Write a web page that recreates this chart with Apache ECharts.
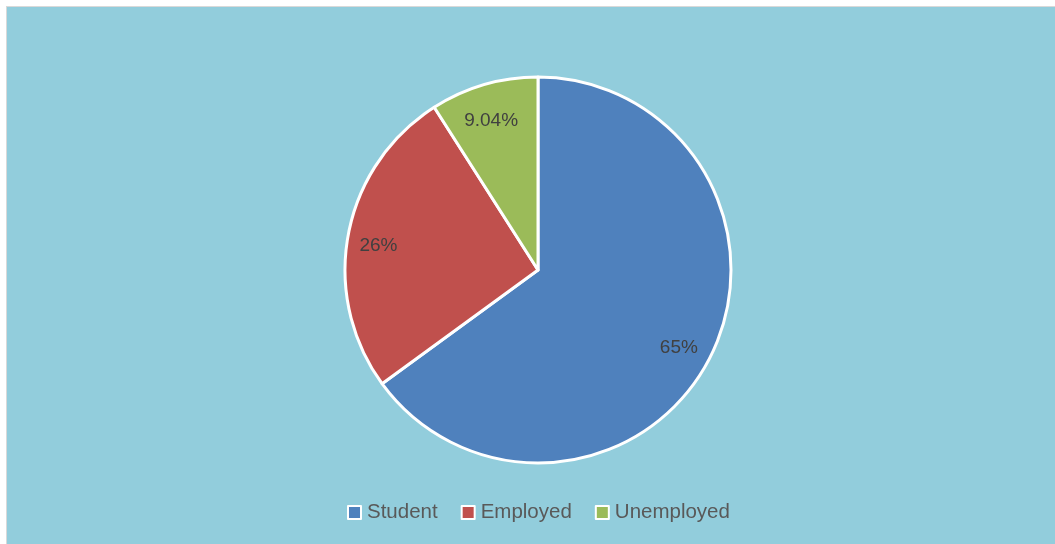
<!DOCTYPE html>
<html>
<head>
<meta charset="utf-8">
<script src="https://cdn.jsdelivr.net/npm/echarts@6/dist/echarts.min.js"></script>
<style>
  html, body { margin: 0; padding: 0; background: #ffffff; overflow: hidden; }
  #frame { position: absolute; left: 6px; top: 6px; width: 1060px; height: 550px;
           border-top: 1px solid #d9d9d9; border-left: 1px solid #d9d9d9; }
  #chart { width: 1055px; height: 544px; }
</style>
</head>
<body>
<div id="frame"><div id="chart"></div></div>
<script>
// Occupation breakdown (percent)
const categories = ['Student', 'Employed', 'Unemployed'];
const values = [65, 26, 9.04];
const labels = ['65%', '26%', '9.04%'];
const colors = ['#4F81BD', '#C0504D', '#9BBB59'];

const font = 'Liberation Sans, Arial, sans-serif';
const center = [531, 263];
const radius = 193;

const sliceData = categories.map((name, i) => ({
  name: name,
  value: values[i],
  itemStyle: { color: colors[i] }
}));

const chart = echarts.init(document.getElementById('chart'));
chart.setOption({
  backgroundColor: '#92CDDC',
  animation: false,
  legend: {
    data: categories,
    bottom: 23,
    left: 335,
    icon: 'rect',
    itemWidth: 13,
    itemHeight: 13,
    itemGap: 23,
    itemStyle: { borderColor: '#ffffff', borderWidth: 2 },
    textStyle: { fontFamily: font, fontSize: 20.5, color: '#595959', padding: [0, 0, 0, 1] }
  },
  series: [
    {
      type: 'pie',
      center: center,
      radius: [0, radius],
      startAngle: 90,
      clockwise: true,
      data: sliceData,
      itemStyle: { borderColor: '#ffffff', borderWidth: 3 },
      label: { show: false },
      labelLine: { show: false },
      emphasis: { disabled: true }
    },
    {
      // label ring: places the percentage text toward the outer part of each slice
      type: 'pie',
      center: center,
      radius: [0, radius * 1.63],
      startAngle: 90,
      clockwise: true,
      silent: true,
      data: sliceData.map((d, i) => ({
        name: d.name,
        value: d.value,
        itemStyle: { color: 'transparent', borderWidth: 0 },
        label: { formatter: labels[i] }
      })),
      label: {
        show: true,
        position: 'inside',
        offset: [-2, 5],
        fontFamily: font,
        fontSize: 19,
        color: '#404040'
      },
      labelLine: { show: false },
      emphasis: { disabled: true }
    }
  ]
});
</script>
</body>
</html>
